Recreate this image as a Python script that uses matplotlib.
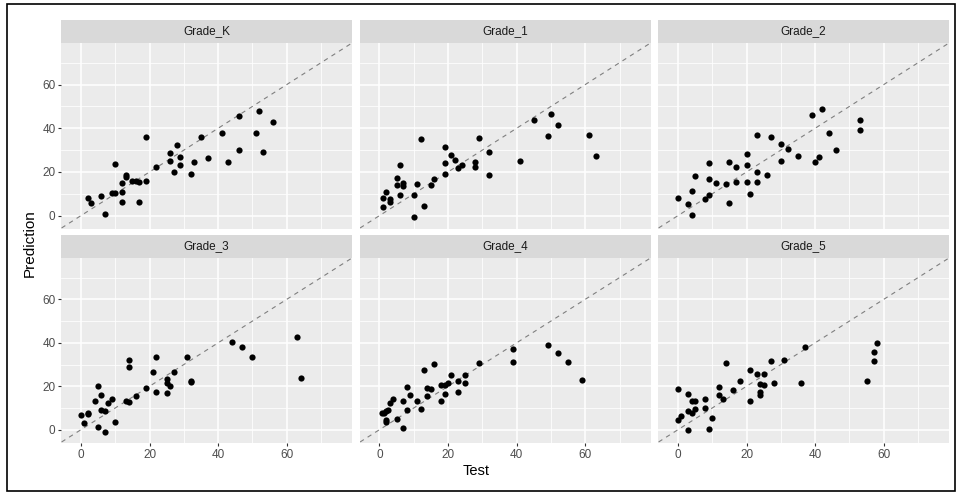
import matplotlib.pyplot as plt
from matplotlib.patches import Rectangle

plt.rcParams['font.family'] = ['Liberation Sans', 'DejaVu Sans']

grades = ['Grade_K', 'Grade_1', 'Grade_2', 'Grade_3', 'Grade_4', 'Grade_5']

k_test = [2, 3, 6, 7, 9, 10, 10, 12, 12, 12, 13, 13, 15, 16, 17, 17, 19, 19, 22,
          26, 26, 27, 28, 29, 29, 32, 33, 35, 37, 41, 43, 46, 46, 51, 52, 53, 56]
k_pred = [8.2, 5.6, 9.0, 0.9, 10.4, 10.4, 23.8, 10.7, 14.8, 6.1, 17.7, 18.6, 15.8, 15.8,
          15.4, 6.4, 15.8, 36.1, 22.1, 28.6, 24.8, 20.0, 32.4, 26.7, 23.2, 18.9, 24.5,
          35.8, 26.5, 37.9, 24.5, 45.4, 30.2, 37.6, 47.8, 29.1, 43.0]

g1_test = [1, 1, 2, 3, 3, 5, 5, 6, 6, 7, 7, 10, 10, 11, 12, 13, 15, 16, 19, 19, 19,
           21, 22, 23, 24, 28, 28, 29, 32, 32, 41, 45, 49, 50, 52, 61, 63]
g1_pred = [3.8, 8.2, 10.7, 7.6, 6.2, 14.2, 17.4, 23.2, 9.4, 15.1, 13.7, 9.6, -0.8, 14.5,
           35.2, 4.4, 14.0, 16.6, 19.2, 23.9, 31.5, 27.7, 25.6, 21.6, 23.3, 24.4, 22.1,
           35.6, 29.1, 18.7, 24.8, 43.9, 36.3, 46.3, 41.6, 36.9, 27.4]

g2_test = [0, 3, 4, 4, 5, 8, 9, 9, 9, 11, 14, 15, 15, 17, 17, 20, 20, 20, 21, 23, 23,
           23, 26, 27, 30, 30, 32, 35, 39, 40, 41, 42, 44, 46, 53, 53]
g2_pred = [8.1, 5.3, 11.3, 0.3, 18.0, 7.8, 9.4, 24.2, 16.9, 15.1, 14.5, 5.8, 24.7, 22.2,
           15.5, 15.5, 23.3, 28.3, 10.1, 20.0, 15.5, 36.7, 18.7, 35.9, 24.8, 32.7, 30.6,
           27.1, 46.2, 24.7, 26.8, 48.7, 37.9, 30.0, 43.9, 39.0]

g3_test = [0, 1, 2, 2, 4, 5, 5, 6, 6, 7, 7, 8, 9, 10, 13, 14, 14, 14, 16, 19, 21, 22,
           22, 25, 25, 25, 26, 27, 31, 32, 32, 44, 47, 50, 63, 64]
g3_pred = [6.6, 3.0, 7.9, 7.3, 13.0, 1.2, 20.0, 16.0, 9.1, 8.8, -1.1, 12.2, 14.0, 3.7,
           13.4, 12.8, 32.3, 29.0, 15.7, 19.3, 26.5, 17.5, 33.4, 23.3, 21.6, 16.9, 20.0,
           26.7, 33.5, 22.6, 22.0, 40.4, 38.0, 33.4, 42.5, 23.8]

g4_test = [0.7, 1.3, 2, 2, 2, 2.6, 3, 4, 5, 7, 7, 8, 8, 9, 11, 12, 13, 14, 14, 15, 16,
           18, 18, 19, 19, 20, 21, 23, 23, 25, 25, 29, 39, 39, 49, 52, 55, 59]
g4_pred = [7.6, 7.9, 8.5, 4.6, 3.7, 9.3, 12.5, 14.0, 5.0, 13.0, 0.6, 9.3, 19.7, 15.9,
           13.1, 9.6, 27.4, 19.4, 15.4, 18.8, 30.3, 13.4, 20.4, 20.7, 16.6, 21.5, 25.0,
           22.2, 17.2, 21.5, 25.3, 30.9, 31.3, 37.3, 39.2, 35.4, 31.3, 22.9]

g5_test = [0, 0, 1, 3, 3, 3, 4, 4, 5, 5, 8, 8, 9, 10, 12, 12, 13, 14, 16, 18, 21, 21,
           23, 24, 24, 24, 25, 25, 28, 27, 31, 37, 36, 55, 57, 57, 58]
g5_pred = [18.6, 4.4, 6.4, 16.3, 8.5, -0.2, 13.4, 7.8, 13.0, 9.6, 14.3, 9.8, 0.5, 5.2,
           19.5, 15.8, 14.0, 30.6, 18.3, 22.3, 13.1, 27.7, 25.8, 21.2, 16.0, 17.4, 25.6,
           20.7, 21.6, 31.4, 32.0, 38.1, 21.6, 22.4, 31.4, 35.7, 39.9]

tests = [k_test, g1_test, g2_test, g3_test, g4_test, g5_test]
preds = [k_pred, g1_pred, g2_pred, g3_pred, g4_pred, g5_pred]

W, H = 959, 494
fig = plt.figure(figsize=(W / 100, H / 100), dpi=100)

def px_axes(x0, y0, x1, y1):
    return fig.add_axes([x0 / W, 1 - y1 / H, (x1 - x0) / W, (y1 - y0) / H])

col_left = [61, 359.5, 658]
col_w = 291
rows = [(20, 43, 229), (235, 258, 443)]

for i, name in enumerate(grades):
    r, c = divmod(i, 3)
    s_top, p_top, p_bot = rows[r]
    x0 = col_left[c]
    x1 = x0 + col_w

    # strip
    sax = px_axes(x0, s_top, x1, p_top)
    sax.set_facecolor('#D9D9D9')
    sax.set_xticks([])
    sax.set_yticks([])
    for sp in sax.spines.values():
        sp.set_visible(False)
    sax.text(0.5, 0.5, name, ha='center', va='center', fontsize=8.5,
             color='#1A1A1A', transform=sax.transAxes)

    # panel
    ax = px_axes(x0, p_top, x1, p_bot)
    ax.set_facecolor('#EBEBEB')
    ax.set_xlim(-5.8, 79)
    ax.set_ylim(-6.1, 79)
    ax.set_xticks([0, 20, 40, 60])
    ax.set_yticks([0, 20, 40, 60])
    ax.set_xticks([10, 30, 50, 70], minor=True)
    ax.set_yticks([10, 30, 50, 70], minor=True)
    ax.grid(which='major', color='white', lw=1.1)
    ax.grid(which='minor', color='white', lw=0.55)
    ax.set_axisbelow(True)
    for sp in ax.spines.values():
        sp.set_visible(False)
    ax.tick_params(which='minor', length=0)
    ax.tick_params(which='major', length=2.5, width=0.8, color='#333333',
                   labelsize=8.5, labelcolor='#4D4D4D', pad=1.5)
    if c != 0:
        ax.tick_params(axis='y', which='major', length=0, labelleft=False)
    if r != 1:
        ax.tick_params(axis='x', which='major', length=0, labelbottom=False)

    ax.plot([-10, 90], [-10, 90], ls=(0, (4, 4)), color='#7F7F7F', lw=0.8, zorder=2)
    ax.scatter(tests[i], preds[i], s=20, color='black', lw=0, zorder=3)

fig.text(476 / W, 1 - 471 / H, 'Test', ha='center', va='center',
         fontsize=10.5, color='black')
fig.text(30 / W, 1 - 243 / H, 'Prediction', ha='center', va='center',
         rotation=90, fontsize=11, color='black')

fig.patches.append(Rectangle((7 / W, 1 - 491 / H), 948 / W, 487 / H,
                             transform=fig.transFigure, fill=False,
                             edgecolor='black', lw=1.2))

fig.savefig('out.png', dpi=100)
